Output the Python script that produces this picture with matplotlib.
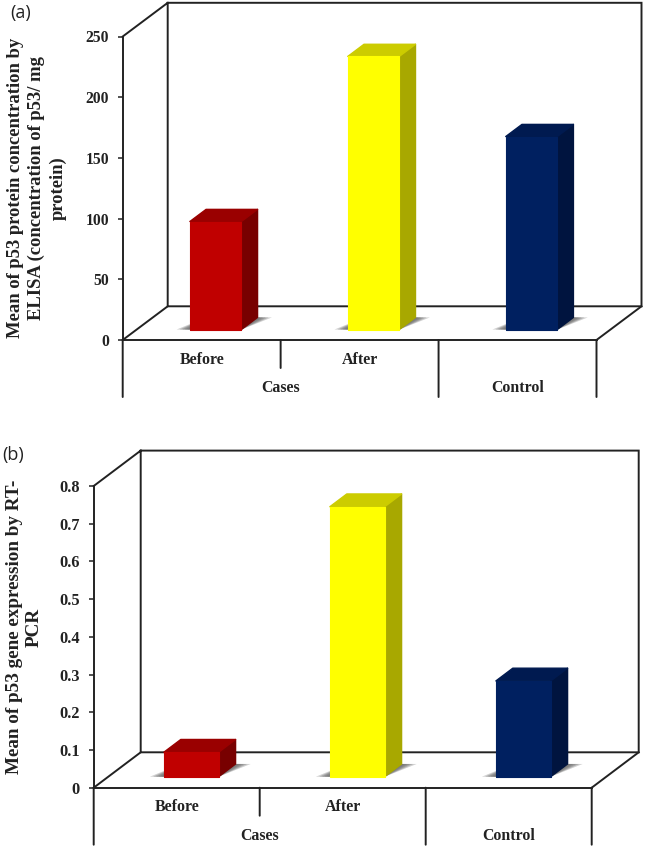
import matplotlib
matplotlib.use("Agg")
import matplotlib.pyplot as plt

W, H = 645, 848

categories = ["Before", "After", "Control"]
group_label = "Cases"
bar_colors = ["#C00000", "#FFFF00", "#002060"]
side_colors = ["#780000", "#A8A800", "#00143F"]
top_colors = ["#9A0000", "#CCCC00", "#001A50"]

values_a = [89, 225, 159]
ticks_a = [0, 50, 100, 150, 200, 250]
tick_labels_a = ["0", "50", "100", "150", "200", "250"]
ylabel_a = "Mean of p53 protein concentration by\nELISA (concentration of p53/ mg\nprotein)"

values_b = [0.065, 0.716, 0.254]
ticks_b = [0, 0.1, 0.2, 0.3, 0.4, 0.5, 0.6, 0.7, 0.8]
tick_labels_b = ["0", "0.1", "0.2", "0.3", "0.4", "0.5", "0.6", "0.7", "0.8"]
ylabel_b = "Mean of p53 gene expression by RT-\nPCR"

SERIF = "Liberation Serif"
INK = "#222222"
LW = 1.4
fig = plt.figure(figsize=(W / 100, H / 100), dpi=100, facecolor="white")


def panel(box, depth_px, values, ticks, tick_labels, ymax, ylabel, ylab_xy, letter, letter_xy,
          bar_w, tick_fs, ylab_fs, ylab_ls, lab_dy):
    left, right, y0, ytop = box
    ax = fig.add_axes([left / W, 1 - y0 / H, (right - left) / W, (y0 - ytop) / H])
    ax.set_xlim(0, 3)
    ax.set_ylim(0, ymax)
    ax.patch.set_alpha(0)
    for s in ("top", "right"):
        ax.spines[s].set_visible(False)
    for s in ("left", "bottom"):
        ax.spines[s].set_color(INK)
        ax.spines[s].set_linewidth(LW)
    DX = depth_px[0] / ((right - left) / 3)
    DY = depth_px[1] / ((y0 - ytop) / ymax)

    def proj(points):
        return ([p[0] + p[2] * DX for p in points], [p[1] + p[2] * DY for p in points])

    # back wall and floor
    lk = dict(color=INK, lw=LW, clip_on=False, zorder=1, solid_joinstyle="miter")
    ax.plot(*proj([(0, ymax, 0), (0, ymax, 1), (3, ymax, 1), (3, 0, 1), (0, 0, 1), (0, ymax, 1)]), **lk)
    ax.plot(*proj([(0, 0, 0), (0, 0, 1)]), **lk)
    ax.plot(*proj([(3, 0, 0), (3, 0, 1)]), **lk)

    # separators below the axis
    for x, depth in zip([0, 1, 2, 3], [57, 28, 57, 57]):
        ax.annotate("", xy=(x, 0), xycoords="data", xytext=(0, -depth * 0.72),
                    textcoords=("offset points"), annotation_clip=False,
                    arrowprops=dict(arrowstyle="-", color=INK, lw=LW, shrinkA=0, shrinkB=0))

    d0, d1 = 0.31, 0.67
    for i, (v, c, cs, ct) in enumerate(zip(values, bar_colors, side_colors, top_colors)):
        x0, x1 = i + 0.5 - bar_w / 2, i + 0.5 + bar_w / 2
        # floor shadow
        for ext, a in zip([1.3, 1.0, 0.75, 0.5, 0.25], [0.3, 0.35, 0.35, 0.35, 0.35]):
            ax.fill(*proj([(x0 - 0.065 * ext, 0, d0), (x1, 0, d0),
                           (x1 + 0.07 * ext, 0, d1), (x0, 0, d1)]),
                    color="#666666", alpha=a, lw=0, zorder=2, clip_on=False)
        ax.fill(*proj([(x1, 0, d0), (x1, 0, d1), (x1, v, d1), (x1, v, d0)]),
                fc=cs, ec=cs, lw=1, joinstyle="round", zorder=3, clip_on=False)
        ax.fill(*proj([(x0, v, d0), (x1, v, d0), (x1, v, d1), (x0, v, d1)]),
                fc=ct, ec=ct, lw=1, joinstyle="round", zorder=3, clip_on=False)
        ax.bar(i + 0.5 + d0 * DX, v, bar_w, bottom=d0 * DY, color=c, edgecolor=c, lw=0.8,
               joinstyle="round", zorder=4, clip_on=False)

    ax.set_xticks([])
    ax.set_yticks(ticks)
    ax.set_yticklabels(tick_labels, family=SERIF, weight="bold", fontsize=tick_fs, color="#222222")
    ax.tick_params(axis="y", length=3.4, width=1.1, color=INK, pad=6.5)

    kw = dict(xycoords=("data", "axes fraction"), textcoords="offset points", ha="center",
              va="center", family=SERIF, weight="bold", fontsize=11.4, color="#222222",
              annotation_clip=False)
    ax.annotate(categories[0], (0.5, 0), (0, -lab_dy[0] * 0.72), **kw)
    ax.annotate(categories[1], (1.5, 0), (0, -lab_dy[0] * 0.72), **kw)
    ax.annotate(categories[2], (2.5, 0), (0, -lab_dy[1] * 0.72), **kw)
    ax.annotate(group_label, (1.0, 0), (0, -lab_dy[1] * 0.72), **kw)

    fig.text(ylab_xy[0] / W, 1 - ylab_xy[1] / H, ylabel, rotation=90, ha="center",
             va="center", multialignment="center", family=SERIF, weight="bold", fontsize=ylab_fs,
             linespacing=ylab_ls, color="#222222")
    fig.text(letter_xy[0] / W, 1 - letter_xy[1] / H, letter, family="Open Sans", fontsize=13,
             ha="left", va="center", color="#222222")
    return ax


panel((122.7, 596.5, 340, 36.5), (45, 33.7), values_a, ticks_a, tick_labels_a, 250, ylabel_a, (37, 188),
      "(a)", (10, 13), 0.326, 11.3, 13.4, 1.3, (20, 48))
panel((93.7, 591.7, 787.7, 486), (47, 35.4), values_b, ticks_b, tick_labels_b, 0.8, ylabel_b, (24.5, 627),
      "(b)", (2, 455), 0.33, 11.8, 13.8, 1.2, (19, 48))

fig.savefig("out.png", dpi=100, facecolor="white")
